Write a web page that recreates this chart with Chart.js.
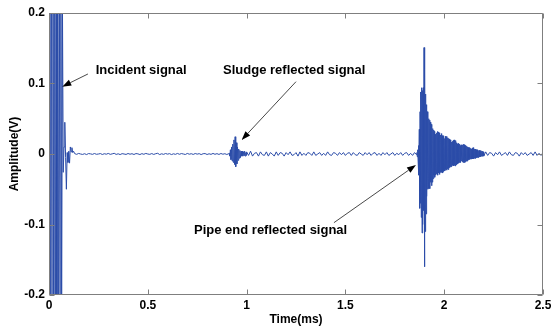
<!DOCTYPE html>
<html>
<head>
<meta charset="utf-8">
<script src="https://cdn.jsdelivr.net/npm/chart.js@4/dist/chart.umd.min.js"></script>
<style>
  html, body { margin: 0; padding: 0; background: #ffffff; }
  #wrap { width: 551px; height: 330px; }
</style>
</head>
<body>
<div id="wrap"><canvas id="c" width="551" height="330"></canvas></div>
<script>
// ---- Data (time in ms, amplitude in V) ----
// Incident signal segment: starts at 0 ms, sample step 0.004 ms
const incidentStart = 0, incidentStep = 0.004;
const incidentValues = [0, 0.35, -0.42, 0.5, -0.55, 0.6, -0.6, 0.55, -0.5, 0.45, -0.45, 0.4, -0.35, 0.32, -0.3, 0.28, -0.25, 0.22,
  -0.026, 0.01, 0.045, -0.005, -0.05, 0.002, -0.012, 0.004, -0.013, 0.010, 0.003, 0.009, 0.002, 0.004];

// Quiet baseline: 0.13 ms .. 0.91 ms, step 0.01 ms
const quietStart = 0.13, quietStep = 0.01;
const quietValues = [
  0.0005,-0.0005,0.0008,0,-0.0006,0.0004,-0.0008,0.0006,0.0002,-0.0005,
  0.0007,-0.0004,0,0.0006,-0.0007,0.0004,-0.0003,0.0008,-0.0005,0.0002,
  0.001,-0.0006,0.0003,-0.0008,0.0005,0,-0.0006,0.0007,-0.0003,0.0004,
  -0.0007,0.0006,0.0002,-0.0008,0.0005,-0.0004,0.0008,0,-0.0005,0.0006,
  -0.0006,0.0004,0.001,-0.0008,0.0003,-0.0005,0.0007,-0.0002,0.0005,-0.0008,
  0.0003,-0.0005,0.0008,-0.0004,0.0006,0,-0.0007,0.0008,-0.0003,0.0004,
  -0.0006,0.0007,-0.0002,0.0005,-0.0008,0.0004,0.0006,-0.0007,0.0003,-0.0005,
  0.0008,-0.0004,0.0005,-0.0006,0.0007,-0.0003,0.0004,-0.0007,0.0005];

// Sludge reflection: 0.912 ms .. 0.999 ms, step 0.003 ms
const sludgeStart = 0.912, sludgeStep = 0.003;
const sludgeValues = [0.001,-0.003,0.006,-0.008,0.01,-0.01,0.014,-0.012,0.02,-0.015,
  0.0245,-0.018,0.016,-0.014,0.01,-0.009,0.007,-0.006,0.005,-0.005,
  0.004,-0.003,0.004,-0.003,0.003,-0.002,0.004,-0.003,0.002,-0.002];

// Noise after sludge echo: 1.00 ms .. 1.86 ms, step 0.01 ms
const midStart = 1.0, midStep = 0.01;
const midValues = [
  0.003,-0.002,0.004,-0.003,0.001,0.002,-0.003,0.003,-0.001,-0.002,
  0.003,-0.003,0.002,0.000,-0.003,0.003,-0.002,0.002,0.001,-0.003,
  0.002,-0.001,0.003,-0.002,-0.001,0.002,-0.003,0.003,-0.002,0.001,
  -0.002,0.002,0.001,-0.002,0.003,-0.002,0.000,0.002,-0.002,0.001,
  -0.002,0.003,-0.001,-0.002,0.002,0.001,-0.002,0.002,-0.001,0.002,
  -0.002,0.001,0.002,-0.002,0.002,-0.001,-0.002,0.002,0.000,-0.002,
  0.002,-0.001,0.002,-0.002,0.001,0.002,-0.002,0.001,-0.002,0.002,
  -0.001,0.002,-0.002,0.000,0.002,-0.002,0.001,-0.001,0.002,-0.002,
  0.001,0.002,-0.002,0.001,-0.002,0.002,-0.001];

// Pipe end reflection: 1.862 ms .. 2.200 ms, step 0.002 ms
const pipeStart = 1.862, pipeStep = 0.002;
const pipeValues = [
  0.002,-0.004,0.006,-0.01,0.012,-0.03,0.035,-0.077,0.06,-0.07,
  0.088,-0.09,0.094,-0.112,0.09,-0.1,0.094,-0.08,0.151,-0.16,
  0.12,-0.11,0.085,-0.085,0.07,-0.06,0.06,-0.05,0.051,-0.049,
  0.05,-0.045,0.048,-0.049,0.045,-0.04,0.042,-0.045,0.038,-0.04,
  0.036,-0.035,0.034,-0.03,0.032,-0.033,0.028,-0.03,0.026,-0.028,
  0.03,-0.028,0.032,-0.03,0.031,-0.027,0.03,-0.029,0.028,-0.026,
  0.027,-0.026,0.029,-0.025,0.026,-0.027,0.024,-0.025,0.026,-0.023,
  0.022,-0.024,0.025,-0.022,0.024,-0.023,0.025,-0.021,0.023,-0.022,
  0.022,-0.02,0.021,-0.019,0.02,-0.018,0.019,-0.018,0.017,-0.016,
  0.018,-0.016,0.019,-0.017,0.02,-0.016,0.018,-0.017,0.019,-0.015,
  0.016,-0.015,0.014,-0.014,0.015,-0.013,0.013,-0.012,0.014,-0.012,
  0.012,-0.011,0.013,-0.01,0.012,-0.011,0.013,-0.012,0.014,-0.011,
  0.013,-0.012,0.012,-0.011,0.012,-0.01,0.011,-0.01,0.01,-0.009,
  0.009,-0.008,0.009,-0.008,0.008,-0.007,0.008,-0.007,0.007,-0.007,
  0.008,-0.007,0.009,-0.007,0.008,-0.006,0.007,-0.006,0.007,-0.006,
  0.006,-0.005,0.006,-0.005,0.005,-0.005,0.005,-0.004,0.005,-0.004,
  0.004,-0.004,0.005,-0.003,0.004,-0.003,0.004,-0.003,0.003,-0.003];

// Tail noise: 2.21 ms .. 2.50 ms, step 0.01 ms
const tailStart = 2.21, tailStep = 0.01;
const tailValues = [
  0.003,-0.002,0.002,0.001,-0.003,0.002,-0.001,0.003,-0.002,0.000,
  0.002,-0.002,0.003,-0.001,-0.002,0.002,0.001,-0.003,0.002,-0.001,
  0.002,-0.002,0.000,0.002,-0.002,0.003,-0.002,0.001,-0.002,0.002];

// Tick labels
const xTickValues = [0, 0.5, 1, 1.5, 2, 2.5];
const xTickLabels = ['0', '0.5', '1', '1.5', '2', '2.5'];
const yTickValues = [-0.2, -0.1, 0, 0.1, 0.2];
const yTickLabels = ['-0.2', '-0.1', '0', '0.1', '0.2'];

// Annotation texts (data coordinates)
const annotationTexts = ['Incident signal', 'Sludge reflected signal', 'Pipe end reflected signal'];
const annotationTextPos = [[0.236, 0.118], [0.881, 0.119], [0.734, -0.109]];
const arrowTails = [[0.197, 0.1135], [1.25, 0.1026], [1.442, -0.0974]];
const arrowTips = [[0.067, 0.0955], [0.975, 0.0199], [1.857, -0.0156]];

// ---- Build points ----
const segments = [
  [incidentStart, incidentStep, incidentValues],
  [quietStart, quietStep, quietValues],
  [sludgeStart, sludgeStep, sludgeValues],
  [midStart, midStep, midValues],
  [pipeStart, pipeStep, pipeValues],
  [tailStart, tailStep, tailValues]
];
const points = [];
segments.forEach(([t0, dt, vals]) => {
  vals.forEach((v, i) => points.push({ x: +(t0 + i * dt).toFixed(4), y: v }));
});

const FONT = '"Liberation Sans", Arial, sans-serif';

const framePlugin = {
  id: 'frame',
  afterDatasetsDraw(chart) {
    const { ctx, chartArea: a, scales: { x, y } } = chart;
    ctx.save();
    ctx.strokeStyle = '#7f7f7f';
    ctx.lineWidth = 1;
    const L = Math.round(a.left) + 0.5, R = Math.round(a.right) - 0.5;
    const T = Math.round(a.top) + 0.5, B = Math.round(a.bottom) - 0.5;
    ctx.beginPath();
    ctx.rect(L, T, R - L, B - T);
    const tl = 5;
    xTickValues.forEach(v => {
      const px = Math.round(x.getPixelForValue(v)) + 0.5;
      ctx.moveTo(px, B); ctx.lineTo(px, B - tl);
      ctx.moveTo(px, T); ctx.lineTo(px, T + tl);
    });
    yTickValues.forEach(v => {
      const py = Math.round(y.getPixelForValue(v)) + 0.5;
      ctx.moveTo(L, py); ctx.lineTo(L + tl, py);
      ctx.moveTo(R, py); ctx.lineTo(R - tl, py);
    });
    ctx.stroke();
    ctx.restore();
  }
};

const annotationPlugin = {
  id: 'annots',
  afterDraw(chart) {
    const { ctx, scales: { x, y } } = chart;
    ctx.save();
    ctx.font = 'bold 13px ' + FONT;
    ctx.fillStyle = '#000';
    ctx.textAlign = 'left';
    ctx.textBaseline = 'middle';
    annotationTexts.forEach((t, i) => {
      ctx.fillText(t, x.getPixelForValue(annotationTextPos[i][0]), y.getPixelForValue(annotationTextPos[i][1]));
    });
    arrowTails.forEach((tail, i) => {
      const x1 = x.getPixelForValue(tail[0]), y1 = y.getPixelForValue(tail[1]);
      const x2 = x.getPixelForValue(arrowTips[i][0]), y2 = y.getPixelForValue(arrowTips[i][1]);
      const ang = Math.atan2(y2 - y1, x2 - x1);
      const len = 9, hw = 3.2;
      const bx = x2 - len * Math.cos(ang), by = y2 - len * Math.sin(ang);
      ctx.strokeStyle = '#333';
      ctx.lineWidth = 0.9;
      ctx.beginPath();
      ctx.moveTo(x1, y1); ctx.lineTo(bx, by);
      ctx.stroke();
      ctx.fillStyle = '#000';
      ctx.beginPath();
      ctx.moveTo(x2, y2);
      ctx.lineTo(bx + hw * Math.sin(ang), by - hw * Math.cos(ang));
      ctx.lineTo(bx - hw * Math.sin(ang), by + hw * Math.cos(ang));
      ctx.closePath();
      ctx.fill();
    });
    ctx.restore();
  }
};

new Chart(document.getElementById('c'), {
  type: 'line',
  data: {
    datasets: [{
      data: points,
      borderColor: '#2b4ca8',
      borderWidth: 1,
      pointRadius: 0,
      tension: 0,
      fill: false,
      clip: 0
    }]
  },
  options: {
    responsive: false,
    animation: false,
    devicePixelRatio: 1,
    layout: { padding: { top: 13, right: 8, left: 0, bottom: 0 } },
    plugins: { legend: { display: false }, tooltip: { enabled: false } },
    scales: {
      x: {
        type: 'linear', min: 0, max: 2.5,
        grid: { display: false, drawTicks: false },
        border: { display: false },
        afterBuildTicks(s) { s.ticks = xTickValues.map(v => ({ value: v })); },
        ticks: {
          autoSkip: false, maxRotation: 0, padding: 3, color: '#000',
          font: { family: FONT, size: 12, weight: 'bold' },
          callback: (v, i) => xTickLabels[i]
        },
        title: { display: true, text: 'Time(ms)', color: '#000', font: { family: FONT, size: 12, weight: 'bold' }, padding: { top: 0, bottom: 3 } },
        afterFit(s) { s.height = 35; s.paddingLeft = 0; s.paddingRight = 0; }
      },
      y: {
        type: 'linear', min: -0.2, max: 0.2,
        grid: { display: false, drawTicks: false },
        border: { display: false },
        afterBuildTicks(s) { s.ticks = yTickValues.map(v => ({ value: v })); },
        ticks: {
          autoSkip: false, padding: 4, color: '#000',
          font: { family: FONT, size: 12, weight: 'bold' },
          callback: (v, i) => yTickLabels[i]
        },
        title: { display: true, text: 'Amplitude(V)', color: '#000', font: { family: FONT, size: 12, weight: 'bold' }, padding: { top: 7, bottom: 0 } },
        afterFit(s) { s.width = 49; s.paddingTop = 0; s.paddingBottom = 0; }
      }
    }
  },
  plugins: [framePlugin, annotationPlugin]
});
</script>
</body>
</html>
